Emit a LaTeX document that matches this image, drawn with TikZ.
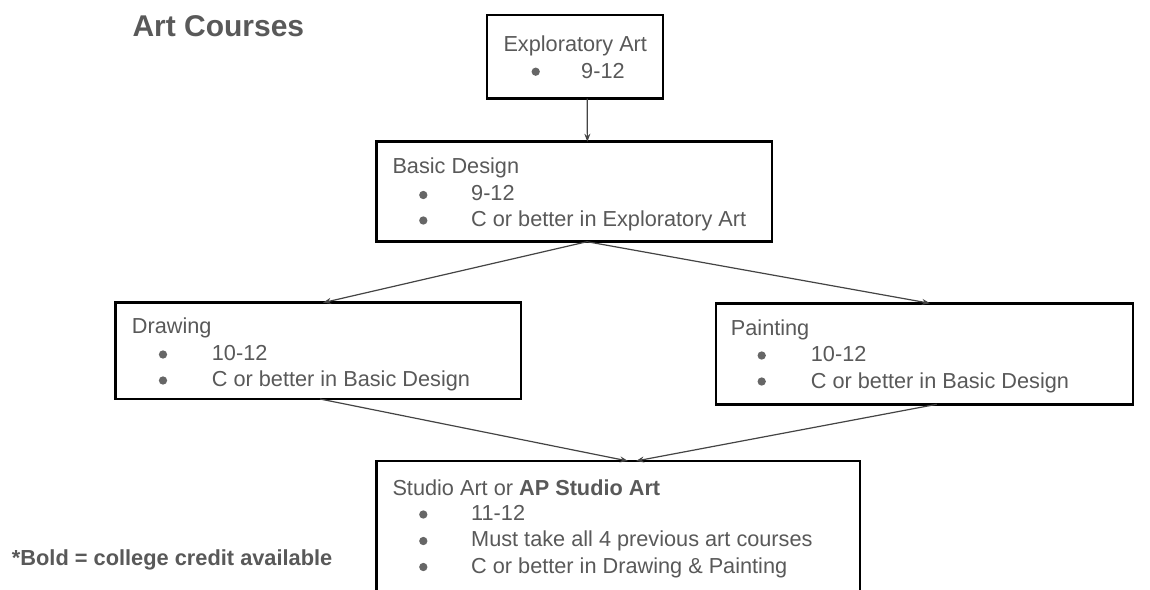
\documentclass[tikz,border=0pt]{standalone}
\usepackage{fontspec}
\setmainfont{Liberation Sans}
\usetikzlibrary{arrows.meta}
\definecolor{txtgray}{HTML}{595959}
\definecolor{bulgray}{HTML}{666666}
\definecolor{arrgray}{HTML}{444444}
\tikzset{
  course/.style={draw=black, line width=2.8pt, inner sep=0pt, outer sep=0pt, anchor=north west, fill=none},
  lbl/.style={anchor=base west, inner sep=0pt, text=txtgray, font=\fontsize{21.7}{26}\selectfont},
  boldlbl/.style={lbl, font=\fontsize{21.8}{26}\selectfont\bfseries},
  titlelbl/.style={lbl, font=\fontsize{30}{34}\selectfont\bfseries},
  bul/.style={circle, fill=bulgray, inner sep=0pt, minimum size=8.3pt},
  link/.style={draw=arrgray, line width=1.2pt, -{Stealth[length=8pt,width=6pt]}}
}
\begin{document}
\begin{tikzpicture}[x=1pt,y=-1pt]
\useasboundingbox (0,0) rectangle (1150,589);
\clip (0,0) rectangle (1150,589);
\fill[white] (0,0) rectangle (1150,589);

% boxes
\node[course, minimum width=176pt, minimum height=83.5pt] (explo) at (487,15) {};
\node[course, minimum width=395.3pt, minimum height=100pt] (basic) at (376.7,141.7) {};
\node[course, minimum width=405.3pt, minimum height=96.3pt] (drawb) at (115.7,302.7) {};
\node[course, minimum width=417pt, minimum height=101pt] (paint) at (716,303.3) {};
\node[course, minimum width=483.3pt, minimum height=170pt] (studio) at (376.7,461) {};

% title and footnote
\node[titlelbl] (title) at (132.3,36.7) {Art Courses};
\node[boldlbl] (foot) at (11.7,565) {*Bold = college credit available};

% Exploratory Art
\node[lbl] (t1) at (503.3,51.7) {Exploratory Art};
\node[bul] (b11) at (535.7,71.7) {};
\node[lbl] (t11) at (581,78.3) {9-12};

% Basic Design
\node[lbl] (t2) at (392.3,173.3) {Basic Design};
\node[bul] (b21) at (423.3,195) {};
\node[bul] (b22) at (423.3,220.5) {};
\node[lbl] (t21) at (471,200) {9-12};
\node[lbl] (t22) at (471,226.7) {C or better in Exploratory Art};

% Drawing
\node[lbl] (t3) at (131.7,333) {Drawing};
\node[bul] (b31) at (163,354.5) {};
\node[bul] (b32) at (163,380.5) {};
\node[lbl] (t31) at (211.7,360) {10-12};
\node[lbl] (t32) at (211.7,386.7) {C or better in Basic Design};

% Painting
\node[lbl] (t4) at (730.7,335) {Painting};
\node[bul] (b41) at (761.7,355.5) {};
\node[bul] (b42) at (761.7,381.5) {};
\node[lbl] (t41) at (810.7,361.7) {10-12};
\node[lbl] (t42) at (810.7,388.3) {C or better in Basic Design};

% Studio Art
\node[lbl] (t5) at (392.3,495) {Studio Art or \textbf{AP Studio Art}};
\node[bul] (b51) at (423.3,514.5) {};
\node[bul] (b52) at (423.3,541) {};
\node[bul] (b53) at (423.3,567) {};
\node[lbl] (t51) at (471,520) {11-12};
\node[lbl] (t52) at (471,546.7) {Must take all 4 previous art courses};
\node[lbl] (t53) at (471,573.3) {C or better in Drawing \& Painting};

% connectors
\draw[link] ([xshift=12.3pt]explo.south) -- ([xshift=13pt]basic.north);
\draw[link] ([xshift=12.7pt]basic.south) -- ([xshift=4.7pt]drawb.north);
\draw[link] ([xshift=12.7pt]basic.south) -- ([xshift=5.5pt]paint.north);
\draw[link] ([xshift=1.7pt]drawb.south) -- ([xshift=9.6pt]studio.north);
\draw[link] ([xshift=12.2pt]paint.south) -- ([xshift=17.6pt]studio.north);
\end{tikzpicture}
\end{document}
